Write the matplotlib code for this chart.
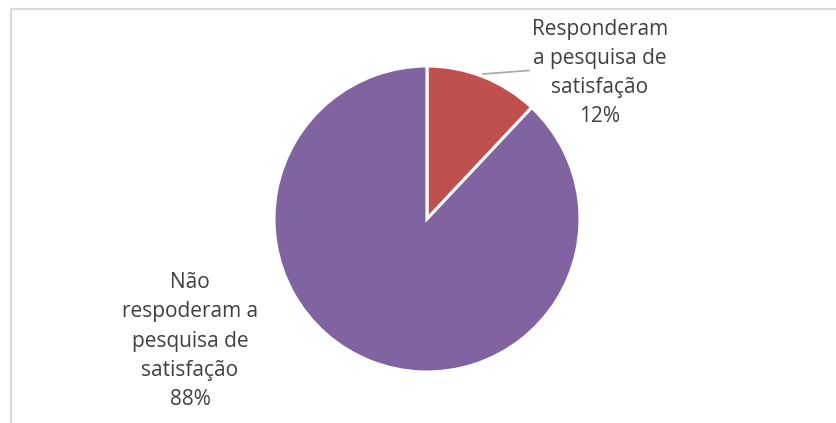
import matplotlib.pyplot as plt
from matplotlib.lines import Line2D

# data
labels = ["Responderam\na pesquisa de\nsatisfação", "Não\nrespoderam a\npesquisa de\nsatisfação"]
values = [12, 88]
colors = ["#C0504D", "#8064A2"]

W, H = 836, 423
fig = plt.figure(figsize=(W / 100, H / 100), dpi=100)
ax = fig.add_axes([0, 0, 1, 1])

ax.pie(values, colors=colors, startangle=90, counterclock=False,
       center=(427, H - 219), radius=153, frame=True,
       wedgeprops=dict(edgecolor="white", linewidth=2.2))
ax.set_xlim(0, W)
ax.set_ylim(0, H)
ax.set_aspect("equal")
ax.axis("off")

# chart border (only left and top visible)
fig.add_artist(Line2D([11 / W, 11 / W], [0, 1 - 9 / H], transform=fig.transFigure,
                      color="#D9D9D9", linewidth=1.5))
fig.add_artist(Line2D([11 / W, 1], [1 - 9 / H, 1 - 9 / H], transform=fig.transFigure,
                      color="#D9D9D9", linewidth=1.5))

txt = dict(ha="center", va="center", fontsize=15, color="#404040",
           family="Open Sans", linespacing=1.52)
ax.text(600, H - 73, f"{labels[0]}\n{values[0]}%", **txt)
ax.text(190, H - 341, f"{labels[1]}\n{values[1]}%", **txt)

# leader line
ax.plot([483, 529], [H - 74, H - 70.5], color="#A6A6A6", linewidth=1.2)

fig.savefig("out.png", dpi=100)
